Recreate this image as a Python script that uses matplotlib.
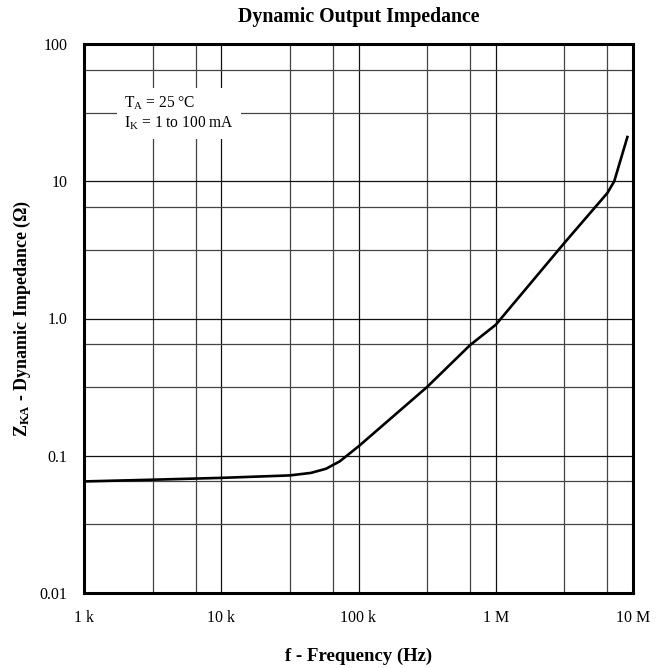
import numpy as np
import matplotlib
matplotlib.use('Agg')
import matplotlib.pyplot as plt
from matplotlib.ticker import FixedLocator, NullFormatter

plt.rcParams['font.family'] = ['Liberation Serif', 'DejaVu Serif']
plt.rcParams['mathtext.fontset'] = 'custom'
plt.rcParams['mathtext.rm'] = 'Liberation Serif'
plt.rcParams['mathtext.bf'] = 'Liberation Serif:bold'

# datos
freq = [1e3, 3.16e3, 1e4, 3.16e4, 4.5e4, 5.8e4, 7.3e4, 1e5, 3.16e5, 6.5e5,
        1e6, 1.12e6, 3.16e6, 6.5e6, 7.3e6, 9.1e6]
zka = [0.065, 0.0669, 0.069, 0.0719, 0.075, 0.0804, 0.091, 0.117, 0.317, 0.64,
       0.9, 1.03, 3.55, 8.2, 10.0, 21.0]

x_ticks = [1e3, 1e4, 1e5, 1e6, 1e7]
x_labels = ['1 k', '10 k', '100 k', '1 M', '10 M']
y_ticks = [0.01, 0.1, 1, 10, 100]
y_labels = ['0.01', '0.1', '1.0', '10', '100']

fig = plt.figure(figsize=(6.68, 6.68), dpi=100)
ax = fig.add_axes([84 / 668, 75 / 668, 549 / 668, 549 / 668])

ax.loglog(freq, zka, color='black', linewidth=1.9, zorder=3)

ax.set_xlim(1e3, 1e7)
ax.set_ylim(0.01, 100)

ax.xaxis.set_major_locator(FixedLocator(x_ticks))
ax.set_xticklabels(x_labels)
ax.yaxis.set_major_locator(FixedLocator(y_ticks))
ax.set_yticklabels(y_labels)

# líneas secundarias de la rejilla (aprox. 3.16 y 6.5 por década)
minor_x = [10 ** (d + f) for d in range(3, 7) for f in (0.5, 0.813)]
minor_y = [10 ** (d + f) for d in range(-2, 2) for f in (0.5, 0.813)]
ax.xaxis.set_minor_locator(FixedLocator(minor_x))
ax.yaxis.set_minor_locator(FixedLocator(minor_y))
ax.xaxis.set_minor_formatter(NullFormatter())
ax.yaxis.set_minor_formatter(NullFormatter())

ax.grid(True, which='major', color='#111111', linewidth=0.9, zorder=1)
ax.grid(True, which='minor', color='#444444', linewidth=0.9, zorder=1)
ax.set_axisbelow(True)

ax.tick_params(which='both', length=0, labelsize=11.5)
ax.tick_params(axis='x', pad=12)
ax.tick_params(axis='y', pad=12)

for s in ax.spines.values():
    s.set_linewidth(2.2)

ax.set_title('Dynamic Output Impedance', fontsize=14.3, fontweight='bold', pad=16)
ax.set_xlabel('f - Frequency (Hz)', fontsize=13.5, fontweight='bold', labelpad=16)
ax.set_ylabel(r'$\mathbf{Z_{KA}}$ - Dynamic Impedance ($\mathbf{\Omega}$)',
              fontsize=13, fontweight='bold', labelpad=5)

ax.text(0.073, 0.874, '$\\mathregular{T_A}$ = 25 °C\n$\\mathregular{I_K}$ = 1 to 100 mA',
        transform=ax.transAxes, fontsize=11.2, va='center', ha='left',
        linespacing=1.15, zorder=4,
        bbox=dict(facecolor='white', edgecolor='none', pad=5))

fig.savefig('out.png', dpi=100)
